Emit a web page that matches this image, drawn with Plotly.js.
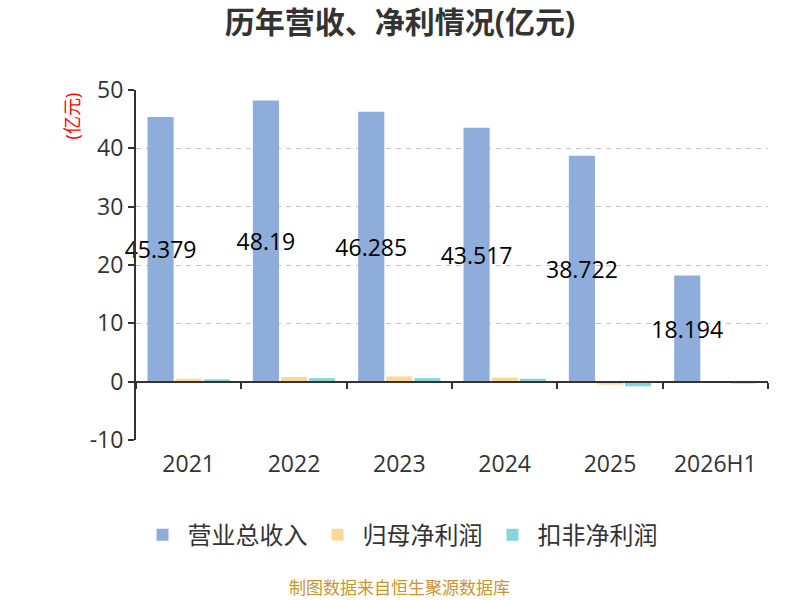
<!DOCTYPE html>
<html>
    <head>
        <meta charset="utf-8">
        <title>历年营收、净利情况</title>
        <script src="https://cdn.plot.ly/plotly-3.0.1.min.js" charset="utf-8"></script>
        <style>
            *{
                margin: 0px;
                padding: 0px;
            }
            #chart{
                width: 800px;
                height: 600px;
            }
        </style>
    </head>
    <body>
        <div id="chart"></div>
    </body>
    <script>
        // данные с картинки
        const years = ["2021", "2022", "2023", "2024", "2025", "2026H1"];
        const revenue = [45.379, 48.19, 46.285, 43.517, 38.722, 18.194];
        const netProfit = [0.5, 0.8, 0.9, 0.7, -0.5, -0.2];
        const deductedProfit = [0.4, 0.6, 0.6, 0.5, -0.8, -0.3];
        const yTicks = [-10, 0, 10, 20, 30, 40, 50];
        const yTickLabels = ["-10", "0", "10", "20", "30", "40", "50"];

        const mainFont = "'Open Sans', 'Noto Sans CJK SC', sans-serif";

        let trace1 = {
            x: years,
            y: revenue,
            name: "营业总收入",
            type: "bar",
            marker: {color: "#8eadda"},
            text: revenue.map(String),
            textposition: "inside",
            insidetextanchor: "middle",
            textangle: 0,
            constraintext: "none",
            cliponaxis: false,
            textfont: {family: mainFont, size: 23, color: "#000"},
            hoverinfo: "y"
        };
        let trace2 = {
            x: years,
            y: netProfit,
            name: "归母净利润",
            type: "bar",
            marker: {color: "#ffd898"},
            hoverinfo: "y"
        };
        let trace3 = {
            x: years,
            y: deductedProfit,
            name: "扣非净利润",
            type: "bar",
            marker: {color: "#86d5d9"},
            hoverinfo: "y"
        };

        let layout = {
            width: 800,
            height: 600,
            margin: {l: 136, r: 32, t: 90, b: 160},
            paper_bgcolor: "#fff",
            plot_bgcolor: "#fff",
            font: {family: mainFont, color: "#333"},
            title: {
                text: "<b>历年营收、净利情况(亿元)</b>",
                font: {family: mainFont, size: 30, color: "#333"},
                x: 0.5,
                xref: "container",
                y: 0.963,
                yanchor: "middle"
            },
            barmode: "group",
            bargap: 0.2,
            bargroupgap: 0.07,
            uniformtext: {mode: "show", minsize: 23},
            showlegend: true,
            legend: {
                orientation: "h",
                xref: "container",
                yref: "container",
                x: 0.5,
                xanchor: "center",
                y: 0.108,
                yanchor: "middle",
                font: {family: mainFont, size: 24, color: "#333"},
                itemwidth: 40
            },
            xaxis: {
                type: "category",
                anchor: "free",
                position: 1 / 6,
                showline: true,
                linecolor: "#333",
                linewidth: 2,
                ticks: "outside",
                tickson: "boundaries",
                ticklen: 6,
                tickwidth: 2,
                tickcolor: "#333",
                ticklabelstandoff: 62,
                tickfont: {family: mainFont, size: 23, color: "#333"},
                showgrid: false,
                zeroline: false
            },
            yaxis: {
                range: [-10, 50],
                tickvals: yTicks,
                ticktext: yTickLabels,
                showline: true,
                linecolor: "#333",
                linewidth: 2,
                ticks: "outside",
                ticklen: 6,
                tickwidth: 2,
                tickcolor: "#333",
                tickfont: {family: mainFont, size: 23, color: "#333"},
                showgrid: true,
                gridcolor: "#c4c4c4",
                griddash: "5px,5px",
                gridwidth: 1,
                zeroline: false
            },
            annotations: [
                {
                    text: "(亿元)",
                    xref: "paper", yref: "paper",
                    x: -0.101, y: 0.925,
                    xanchor: "center", yanchor: "middle",
                    textangle: -90,
                    showarrow: false,
                    font: {family: mainFont, size: 18, color: "#ff0000"}
                },
                {
                    text: "制图数据来自恒生聚源数据库",
                    xref: "paper", yref: "paper",
                    x: 0.4177, y: -0.42,
                    xanchor: "center", yanchor: "middle",
                    showarrow: false,
                    font: {family: mainFont, size: 17, color: "#c8962e"}
                }
            ]
        };

        Plotly.newPlot("chart", [trace1, trace2, trace3], layout, {displayModeBar: false});
    </script>
</html>
